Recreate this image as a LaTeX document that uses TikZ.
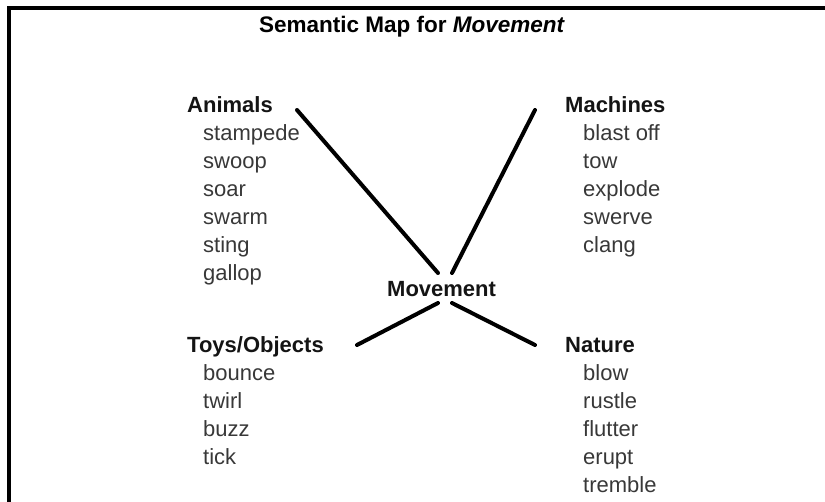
\documentclass[tikz,border=0pt]{standalone}
\usepackage{fontspec}
\setmainfont{Liberation Sans}

\begin{document}
\begin{tikzpicture}[x = 1pt, y = -1pt,
    head/.style = {anchor=base west, inner sep=0pt, text=black!92,
                   font=\fontsize{22}{26}\selectfont\bfseries},
    word/.style = {anchor=base west, inner sep=0pt, text=black!78,
                   font=\fontsize{22}{26}\selectfont},
    spoke/.style = {line width=4pt, line cap=round}]
            \useasboundingbox (0,0) rectangle (825,502);
            %\draw (0,0) rectangle (825,502);
            \draw[line width=4pt] (9,502) -- (9,8) -- (825,8);
            \node[anchor=base, inner sep=0pt, font=\fontsize{22.5}{27}\selectfont\bfseries] (title) at (412,33) {Semantic Map for \textit{Movement}};

            \node[head] (movement) at (387,297) {Movement};

            \node[head] (animals) at (187,113) {Animals};
            \foreach \w [count=\i] in {stampede,swoop,soar,swarm,sting,gallop}
                \node[word] (animals-\i) at (203,113+28*\i) {\w};

            \node[head] (machines) at (565,113) {Machines};
            \foreach \w [count=\i] in {blast off,tow,explode,swerve,clang}
                \node[word] (machines-\i) at (583,113+28*\i) {\w};

            \node[head] (toys) at (187,353) {Toys/Objects};
            \foreach \w [count=\i] in {bounce,twirl,buzz,tick}
                \node[word] (toys-\i) at (203,353+28*\i) {\w};

            \node[head] (nature) at (565,353) {Nature};
            \foreach \w [count=\i] in {blow,rustle,flutter,erupt,tremble}
                \node[word] (nature-\i) at (583,353+28*\i) {\w};

            % spoke ends
            \coordinate (animals-end) at (297,110);
            \coordinate (machines-end) at (535,110);
            \coordinate (toys-end) at (357,345);
            \coordinate (nature-end) at (535,345);
            \coordinate (hub-nw) at (438,273);
            \coordinate (hub-ne) at (452,273);
            \coordinate (hub-sw) at (438,303);
            \coordinate (hub-se) at (452,303);

            \draw[spoke] (animals-end) -- (hub-nw);
            \draw[spoke] (machines-end) -- (hub-ne);
            \draw[spoke] (toys-end) -- (hub-sw);
            \draw[spoke] (nature-end) -- (hub-se);
\end{tikzpicture}
\end{document}
